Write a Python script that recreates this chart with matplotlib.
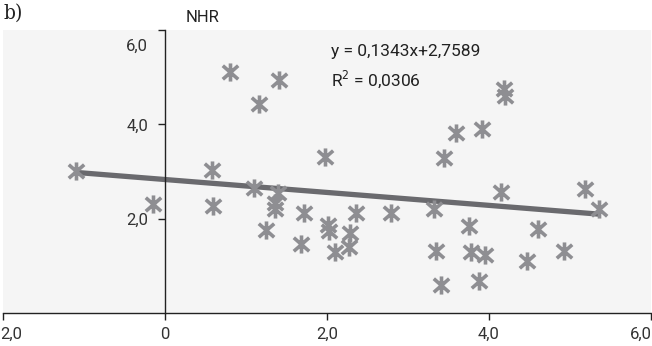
import matplotlib
matplotlib.use("Agg")
import matplotlib.pyplot as plt
import matplotlib.transforms as mtransforms
from matplotlib.path import Path
import numpy as np

# values
x_vals = [-1.10, -0.15, 0.575, 0.59, 0.80, 1.16, 1.41, 1.10, 1.39, 1.36,
          1.36, 1.25, 1.71, 1.675, 1.975, 2.01, 2.03, 2.10, 2.275, 2.29,
          2.36, 2.79, 3.32, 3.35, 3.41, 3.45, 3.59, 3.75, 3.775, 3.95,
          3.875, 3.91, 4.15, 4.19, 4.20, 4.475, 4.61, 4.925, 5.19, 5.36]
y_vals = [3.02, 2.32, 3.04, 2.26, 5.11, 4.43, 4.94, 2.64, 2.55, 2.34,
          2.21, 1.77, 2.13, 1.47, 3.30, 1.87, 1.74, 1.30, 1.40, 1.70,
          2.13, 2.13, 2.21, 1.32, 0.60, 3.28, 3.81, 1.85, 1.30, 1.23,
          0.68, 3.91, 2.57, 4.74, 4.60, 1.11, 1.79, 1.32, 2.62, 2.21]
fit_slope = -0.137
fit_intercept = 2.83
eq_lines = ["y = 0,1343x+2,7589", "R$^2$ = 0,0306"]
x_ticks = [-2, 0, 2, 4, 6]
x_labels = ["2,0", "0", "2,0", "4,0", "6,0"]
y_ticks = [2, 4, 6]
y_labels = ["2,0", "4,0", "6,0"]

plt.rcParams['font.family'] = ['Roboto', 'DejaVu Sans']
plt.rcParams['font.stretch'] = 'condensed'

# asterisk: vertical bar plus an X
star = Path([(0, -1), (0, 1), (-0.85, -0.75), (0.85, 0.75),
             (-0.85, 0.75), (0.85, -0.75)],
            [Path.MOVETO, Path.LINETO] * 3)

fig = plt.figure(figsize=(6.52, 3.46), dpi=100)
ax = fig.add_axes([3 / 652, 33 / 346, 648 / 652, 283 / 346])
ax.set_facecolor('#f5f5f5')
ax.set_xlim(-2, 6)
ax.set_ylim(0, 6)

# regression line
xl = np.array([min(x_vals), max(x_vals)])
ax.plot(xl, fit_slope * xl + fit_intercept, color='#6a6a6e', lw=3.8,
        solid_capstyle='butt', zorder=2)
ax.scatter(x_vals, y_vals, marker=star, s=170, color='#8e8e92',
           linewidths=2.6, zorder=3)

for s in ['top', 'right']:
    ax.spines[s].set_visible(False)
ax.spines['left'].set_position(('data', 0))
ax.spines['left'].set_bounds(0, 6)
for s in ['left', 'bottom']:
    ax.spines[s].set_linewidth(1.0)
    ax.spines[s].set_color('#222222')

ax.set_xticks(x_ticks)
ax.set_xticklabels(x_labels)
ax.set_yticks(y_ticks)
ax.set_yticklabels(y_labels)
ax.tick_params(axis='both', direction='out', length=5, width=1,
               colors='#222222', labelsize=12, labelcolor='#333333')
ax.tick_params(axis='x', pad=5)
ax.tick_params(axis='y', pad=7)

# edge labels kept inside the picture
lbls = ax.get_xticklabels()
lbls[0].set_horizontalalignment('left')
lbls[0].set_transform(lbls[0].get_transform()
                      + mtransforms.ScaledTranslation(-3 / 100, 0, fig.dpi_scale_trans))
lbls[-1].set_horizontalalignment('right')
lbls[-1].set_transform(lbls[-1].get_transform()
                       + mtransforms.ScaledTranslation(1 / 100, 0, fig.dpi_scale_trans))
# top y label sits below its tick
ylb = ax.get_yticklabels()[-1]
ylb.set_transform(ylb.get_transform()
                  + mtransforms.ScaledTranslation(0, -15 / 100, fig.dpi_scale_trans))

ax.text(2.05, 5.55, eq_lines[0], fontsize=12.5, color='#222222', va='center')
ax.text(2.05, 4.95, eq_lines[1], fontsize=12.5, color='#222222', va='center')

fig.text(186 / 652, 1 - 18 / 346, "NHR", fontsize=12, color='#222222',
         va='center', ha='left')
fig.text(4 / 652, 1 - 13 / 346, "b)", fontsize=15, family='serif',
         color='#222222', va='center', ha='left')

fig.savefig('out.png', dpi=100, facecolor='white')
